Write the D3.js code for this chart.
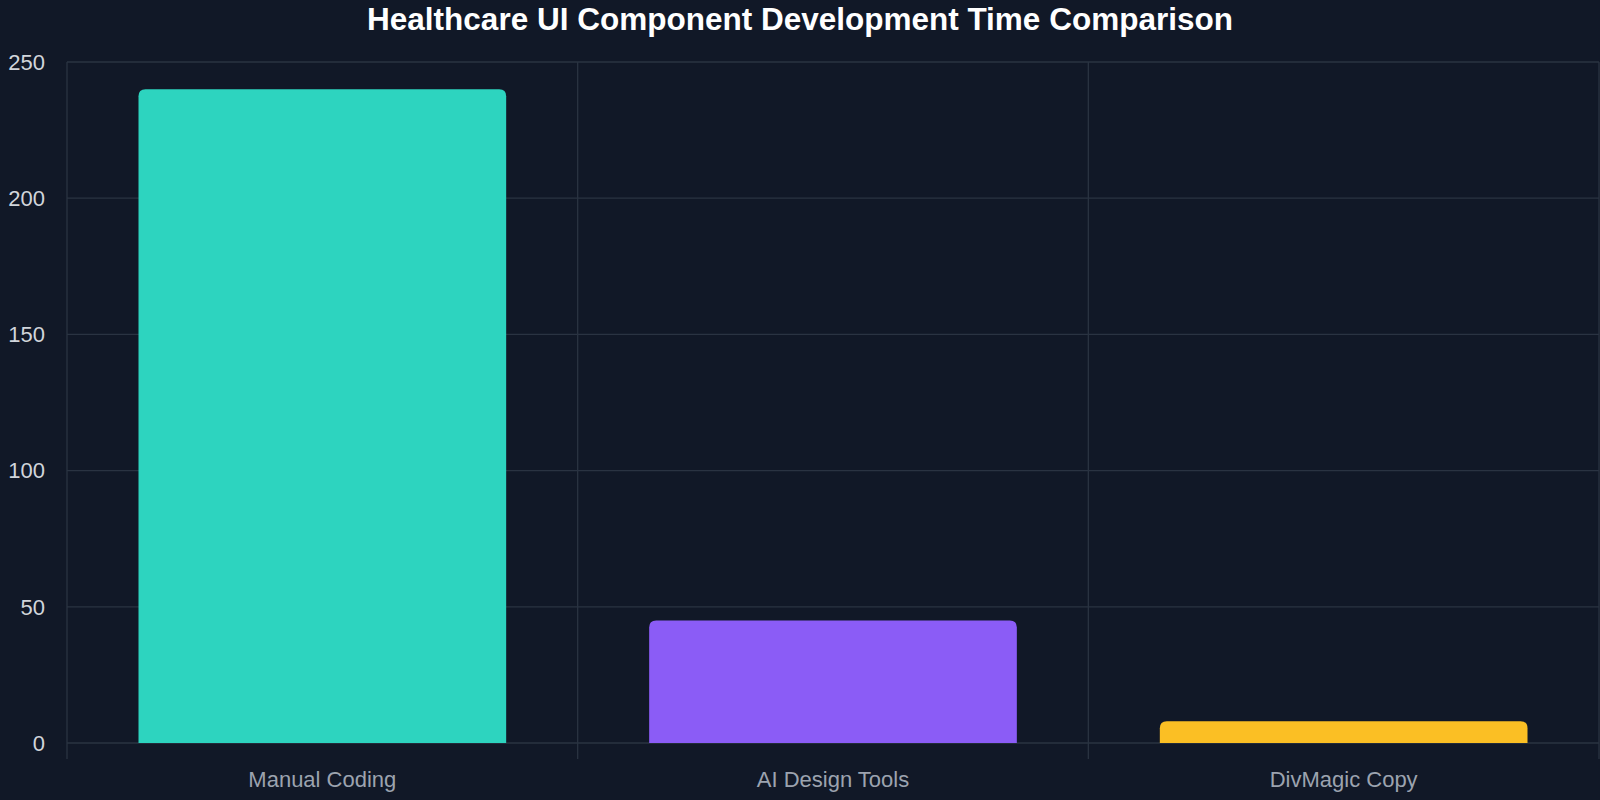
<!DOCTYPE html>
<html><head><meta charset="utf-8">
<script src="https://cdn.jsdelivr.net/npm/d3@7"></script>
<style>body{margin:0;background:#111827;}svg{display:block;font-family:"Liberation Sans",Arial,sans-serif;}</style>
</head><body>
<svg id="chart" width="1600" height="800"></svg>
<script>
const categories = ["Manual Coding", "AI Design Tools", "DivMagic Copy"];
const values = [240, 45, 8];
const colors = ["#2dd4bf", "#8b5cf6", "#fbbf24"];
const yTicks = [0, 50, 100, 150, 200, 250];

const margin = { top: 62, right: 1, bottom: 57, left: 67 };
const width = 1600 - margin.left - margin.right;
const height = 800 - margin.top - margin.bottom;

const svg = d3.select("#chart");
svg.append("text")
  .attr("x", 800).attr("y", 30)
  .attr("text-anchor", "middle")
  .style("font-size", "31.5px").style("font-weight", "bold")
  .style("fill", "#ffffff")
  .text("Healthcare UI Component Development Time Comparison");

const g = svg.append("g").attr("transform", `translate(${margin.left},${margin.top})`);

const x = d3.scaleBand().domain(categories).range([0, width]).paddingInner(0.28).paddingOuter(0.14);
const y = d3.scaleLinear().domain([0, 250]).range([height, 0]);

// horizontal grid
g.selectAll(".hgrid").data(yTicks).enter().append("line")
  .attr("x1", 0).attr("x2", width)
  .attr("y1", d => y(d)).attr("y2", d => y(d))
  .attr("stroke", "#2a3342").attr("stroke-width", 1.3);

// vertical grid at category boundaries
const step = width / categories.length;
const bounds = d3.range(categories.length + 1).map(i => i * step);
g.selectAll(".vgrid").data(bounds).enter().append("line")
  .attr("x1", d => d).attr("x2", d => d)
  .attr("y1", 0).attr("y2", height + 16)
  .attr("stroke", "#2a3342").attr("stroke-width", 1.3);

// y labels
g.selectAll(".ylab").data(yTicks).enter().append("text")
  .attr("x", -22).attr("y", d => y(d)).attr("dy", "0.35em")
  .attr("text-anchor", "end")
  .style("font-size", "22px").style("fill", "#d1d5db")
  .text(d => d);

// x labels
g.selectAll(".xlab").data(categories).enter().append("text")
  .attr("x", d => x(d) + x.bandwidth() / 2).attr("y", height + 44)
  .attr("text-anchor", "middle")
  .style("font-size", "22px").style("fill", "#9ca3af")
  .text(d => d);

// bars with rounded top corners
const r = 7;
g.selectAll(".bar").data(values).enter().append("path")
  .attr("fill", (d, i) => colors[i])
  .attr("d", (d, i) => {
    const x0 = x(categories[i]), w = x.bandwidth(), y0 = y(d), y1 = y(0);
    const rr = Math.min(r, (y1 - y0));
    return `M${x0},${y1}V${y0 + rr}Q${x0},${y0} ${x0 + rr},${y0}H${x0 + w - rr}Q${x0 + w},${y0} ${x0 + w},${y0 + rr}V${y1}Z`;
  });
</script>
</body></html>
